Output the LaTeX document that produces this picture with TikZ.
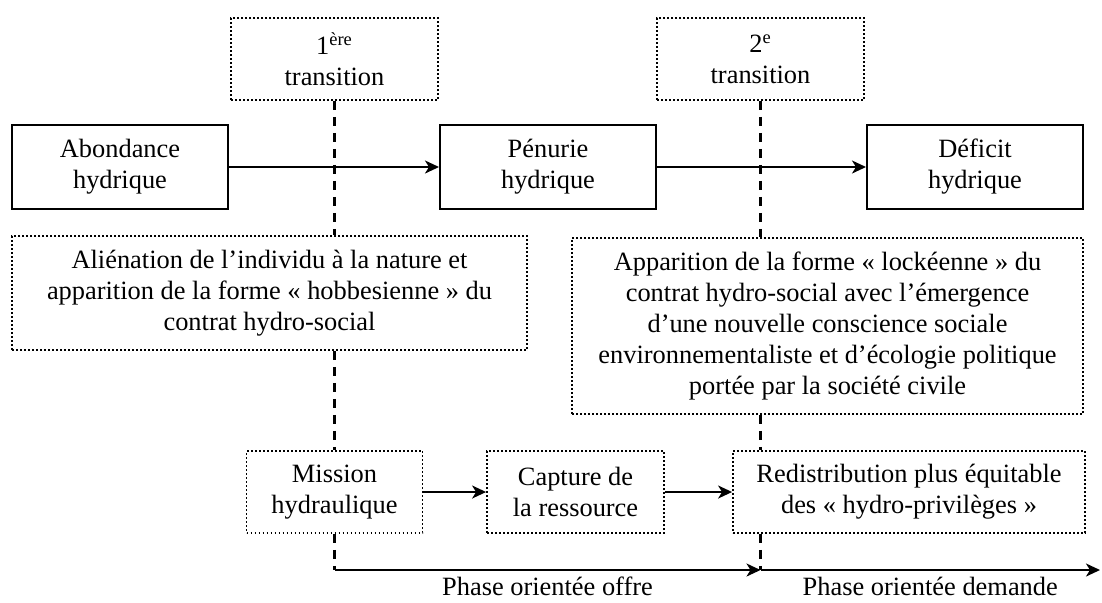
\documentclass[tikz,border=0pt]{standalone}
\usepackage{fontspec}
\setmainfont{Liberation Serif}
\usetikzlibrary{arrows.meta,positioning,calc}

\begin{document}
\begin{tikzpicture}[x=0.5pt,y=-0.5pt,
    font=\fontsize{13.2}{15.5}\selectfont,
    box/.style={draw,line width=1pt,align=center,inner sep=0pt,minimum width=108pt,minimum height=42pt},
    dotbox/.style={draw,line width=0.9pt,dash pattern=on 0.9pt off 1.1pt,align=center,inner sep=0pt},
    dashline/.style={line width=1.2pt,dash pattern=on 4.5pt off 3.5pt},
    arrow/.style={-{Stealth[length=7pt,width=6.5pt,inset=2pt]},line width=1pt},
    phase/.style={inner sep=1pt,below=2pt}
  ]
    \useasboundingbox (0,0) rectangle (1102,602);

    % transitions
    \node[dotbox,minimum width=103.5pt,minimum height=41pt] (trans1) at (334.5,59) {1\textsuperscript{ère}\\transition};
    \node[dotbox,minimum width=103.5pt,minimum height=41pt] (trans2) at (760.5,59) {2\textsuperscript{e}\\transition};

    % etats de la ressource
    \node[box] (abond) at (120,167) {Abondance\\hydrique};
    \node[box] (penur) at (548,167) {Pénurie\\hydrique};
    \node[box] (defic) at (975,167) {Déficit\\hydrique};

    % contrats hydro-sociaux
    \node[dotbox,minimum width=257.5pt,minimum height=57pt] (alien) at (269.5,293) {Aliénation de l’individu à la nature et\\apparition de la forme « hobbesienne » du\\contrat hydro-social};
    \node[dotbox,minimum width=255.5pt,minimum height=88pt] (appar) at (827.5,326) {Apparition de la forme « lockéenne » du\\contrat hydro-social avec l’émergence\\d’une nouvelle conscience sociale\\environnementaliste et d’écologie politique\\portée par la société civile};

    % phases
    \node[dotbox,minimum width=88pt,minimum height=41pt] (mission) at (334.5,492) {Mission\\hydraulique};
    \node[dotbox,minimum width=88.5pt,minimum height=41pt] (capture) at (575.5,492) {Capture de\\la ressource};
    \node[dotbox,minimum width=176pt,minimum height=41pt] (redis) at (909,492) {Redistribution plus équitable\\des « hydro-privilèges »};

    \coordinate (ph1) at (334.5,570);
    \coordinate (ph2) at (760.5,570);
    \coordinate (ph3) at (1100,570);

    \draw[dashline] (trans1.south) -- (trans1.south |- alien.north);
    \draw[dashline] (trans1.south |- alien.south) -- (mission.north);
    \draw[dashline] (mission.south) -- (ph1);
    \draw[dashline] (trans2.south) -- (trans2.south |- appar.north);
    \draw[dashline] (trans2.south |- appar.south) -- (trans2.south |- redis.north);
    \draw[dashline] (trans2.south |- redis.south) -- (ph2);

    \draw[arrow] (abond) -- (penur);
    \draw[arrow] (penur) -- (defic);
    \draw[arrow] (mission) -- (capture);
    \draw[arrow] (capture) -- (redis);
    \draw[arrow] (ph1) -- node[phase] (offre) {Phase orientée offre} (ph2);
    \draw[arrow] (ph2) -- node[phase] (demande) {Phase orientée demande} (ph3);
  \end{tikzpicture}
\end{document}
